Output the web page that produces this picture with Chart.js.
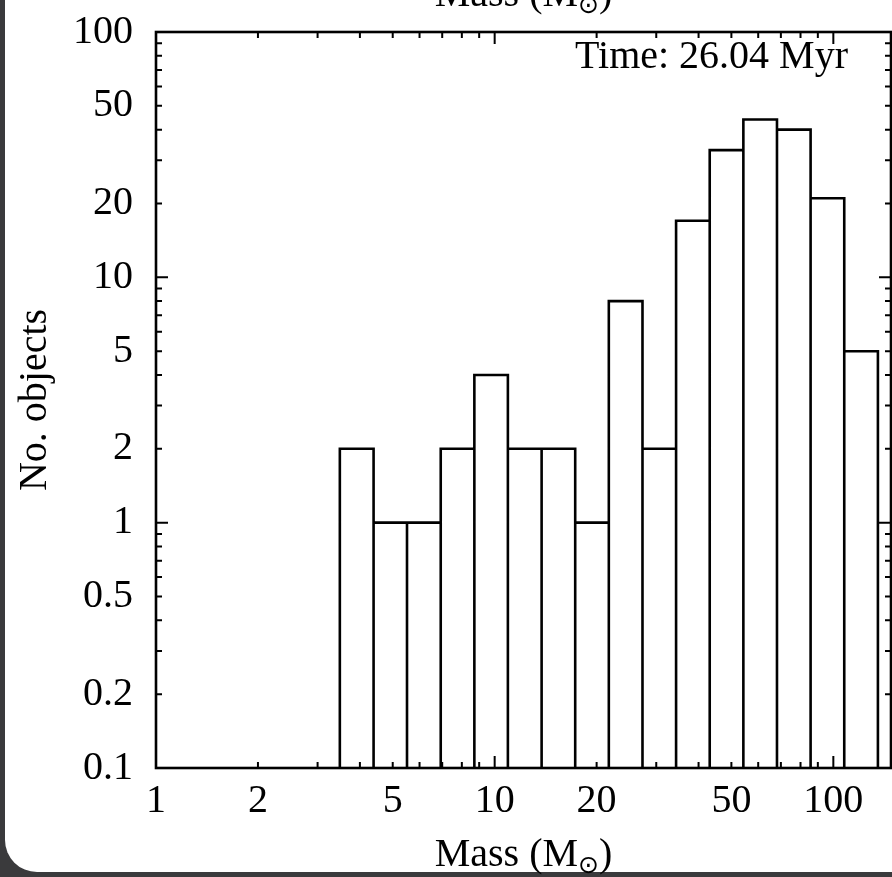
<!DOCTYPE html>
<html>
<head>
<meta charset="utf-8">
<script src="https://cdn.jsdelivr.net/npm/chart.js@4"></script>
<style>
  html, body { margin: 0; padding: 0; width: 892px; height: 877px; overflow: hidden; background: #3a3a3c; }
  #paper { position: absolute; left: 5px; top: -40px; width: 940px; height: 912px; background: #fff; border-bottom-left-radius: 32px; }
  #wrap { position: absolute; left: 0; top: 0; width: 892px; height: 877px; }
</style>
</head>
<body>
<div id="paper"></div>
<div id="wrap"><canvas id="chart"></canvas></div>
<script>
// histogram bins (mass edges, Msun) and counts per bin
const binEdges = [3.49, 4.39, 5.51, 6.93, 8.71, 10.94, 13.76, 17.29, 21.73, 27.32, 34.33, 43.15, 54.24, 68.17, 85.68, 107.7, 135.4];
const counts = [2, 1, 1, 2, 4, 2, 2, 1, 8, 2, 17, 33, 44, 40, 21, 5];
const xTickLabels = [1, 2, 5, 10, 20, 50, 100];
const yTickLabels = [0.1, 0.2, 0.5, 1, 2, 5, 10, 20, 50, 100];
const xRange = [1, 148];
const yRange = [0.1, 100];
const timeLabel = 'Time: 26.04 Myr';

const FONT = '"Liberation Serif", "Times New Roman", serif';
const FSIZE = 40;

function histOutline() {
    const pts = [];
    counts.forEach(function (c, i) {
        pts.push({ x: binEdges[i], y: yRange[0] });
        pts.push({ x: binEdges[i], y: c });
        pts.push({ x: binEdges[i + 1], y: c });
        pts.push({ x: binEdges[i + 1], y: yRange[0] });
    });
    return pts;
}

function drawMassLabel(ctx, cx, base) {
    const main = FSIZE + 'px ' + FONT;
    const sub = '25px "DejaVu Sans"';
    ctx.font = main;
    const w1 = ctx.measureText('Mass (M').width;
    const w3 = ctx.measureText(')').width;
    ctx.font = sub;
    const w2 = ctx.measureText('\u2299').width;
    let x = cx - (w1 + w2 + w3) / 2;
    ctx.textAlign = 'left';
    ctx.textBaseline = 'alphabetic';
    ctx.font = main;
    ctx.fillText('Mass (M', x, base);
    x += w1;
    ctx.font = sub;
    ctx.fillText('\u2299', x, base + 7);
    x += w2;
    ctx.font = main;
    ctx.fillText(')', x, base);
}

// inward tick marks on all four sides, frame, labels
const framePlugin = {
    id: 'framePlugin',
    afterDraw(chart) {
        const ctx = chart.ctx;
        const a = chart.chartArea;
        const xs = chart.scales.x;
        const ys = chart.scales.y;
        ctx.save();
        ctx.strokeStyle = '#000';
        ctx.lineWidth = 2;

        function logTicks(min, max, cb) {
            for (let e = Math.floor(Math.log10(min)); e <= Math.ceil(Math.log10(max)); e++) {
                for (let k = 1; k <= 9; k++) {
                    const v = k * Math.pow(10, e);
                    if (v < min * 0.999 || v > max * 1.001) continue;
                    cb(v, k === 1);
                }
            }
        }

        ctx.beginPath();
        logTicks(xRange[0], xRange[1], function (v, major) {
            const px = xs.getPixelForValue(v);
            const len = major ? 12 : 6;
            ctx.moveTo(px, a.bottom); ctx.lineTo(px, a.bottom - len);
            ctx.moveTo(px, a.top); ctx.lineTo(px, a.top + len);
        });
        logTicks(yRange[0], yRange[1], function (v, major) {
            const py = ys.getPixelForValue(v);
            const len = major ? 12 : 6;
            ctx.moveTo(a.left, py); ctx.lineTo(a.left + len, py);
            ctx.moveTo(a.right, py); ctx.lineTo(a.right - len, py);
        });
        ctx.stroke();

        ctx.lineWidth = 2.6;
        ctx.strokeRect(a.left, a.top, a.right - a.left, a.bottom - a.top);

        ctx.fillStyle = '#000';
        ctx.font = FSIZE + 'px ' + FONT;
        ctx.textAlign = 'right';
        ctx.textBaseline = 'alphabetic';
        ctx.fillText(timeLabel, 848, 68);

        const cx = (a.left + a.right) / 2;
        drawMassLabel(ctx, cx, 866);
        drawMassLabel(ctx, cx, 6);
        ctx.restore();
    }
};

function initChart() {
    const data = {
        datasets: [
            {
                label: 'No. objects',
                data: histOutline(),
                showLine: true,
                borderColor: '#000',
                borderWidth: 2.6,
                pointRadius: 0,
                fill: false,
                tension: 0
            }
        ]
    };
    const config = {
        type: 'scatter',
        data: data,
        options: {
            responsive: true,
            maintainAspectRatio: false,
            animation: false,
            devicePixelRatio: 1,
            layout: {
                padding: { top: 32, right: 1, left: 0, bottom: 0 }
            },
            plugins: {
                legend: { display: false },
                tooltip: { enabled: false }
            },
            scales: {
                x: {
                    type: 'logarithmic',
                    min: xRange[0],
                    max: xRange[1],
                    afterFit: function (s) {
                        s.height = 109;
                        s.paddingLeft = 0;
                        s.paddingRight = 0;
                    },
                    afterBuildTicks: function (s) {
                        s.ticks = xTickLabels.map(function (v) { return { value: v }; });
                    },
                    grid: { display: false, drawTicks: false },
                    border: { display: false },
                    ticks: {
                        color: '#000',
                        font: { family: FONT, size: FSIZE, lineHeight: 1 },
                        padding: 13,
                        autoSkip: false,
                        maxRotation: 0,
                        callback: function (v) { return String(v); }
                    }
                },
                y: {
                    type: 'logarithmic',
                    min: yRange[0],
                    max: yRange[1],
                    afterFit: function (s) {
                        s.width = 156;
                        s.paddingTop = 0;
                        s.paddingBottom = 0;
                    },
                    afterBuildTicks: function (s) {
                        s.ticks = yTickLabels.map(function (v) { return { value: v }; });
                    },
                    grid: { display: false, drawTicks: false },
                    border: { display: false },
                    ticks: {
                        color: '#000',
                        font: { family: FONT, size: FSIZE, lineHeight: 1 },
                        padding: 23,
                        autoSkip: false,
                        callback: function (v) { return String(v); }
                    },
                    title: {
                        display: true,
                        text: 'No. objects',
                        color: '#000',
                        font: { family: FONT, size: FSIZE, lineHeight: 1 },
                        padding: { top: 15, bottom: 0 }
                    }
                }
            }
        },
        plugins: [framePlugin]
    };
    new Chart(document.getElementById('chart'), config);
}

initChart();
</script>
</body>
</html>
